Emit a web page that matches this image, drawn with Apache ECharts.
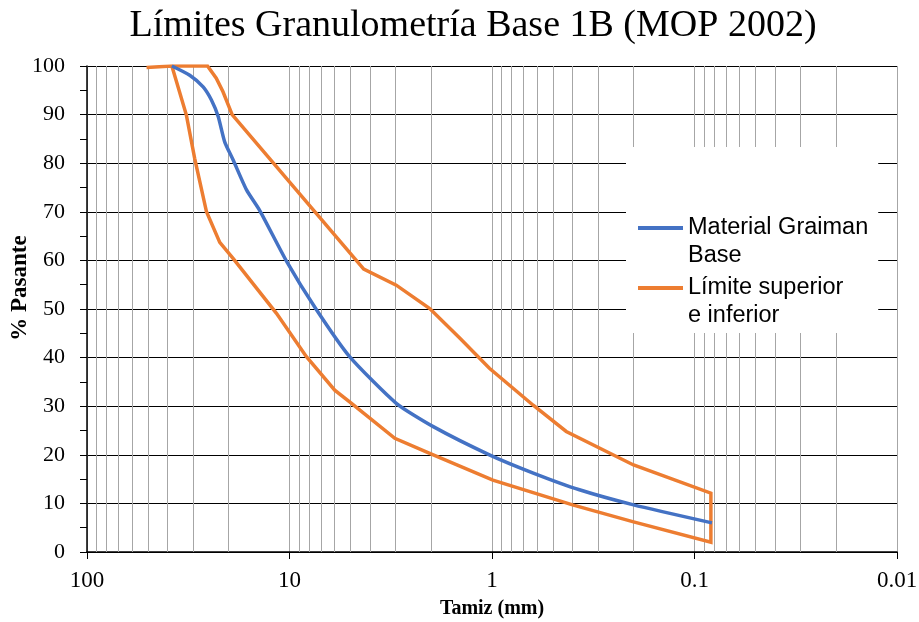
<!DOCTYPE html>
<html>
<head>
<meta charset="utf-8">
<script src="https://cdn.jsdelivr.net/npm/echarts@6/dist/echarts.min.js"></script>
<style>html,body{margin:0;padding:0;background:#fff}#c{width:919px;height:622px}</style>
</head>
<body>
<div id="c"></div>
<script>
// ---- data ----
const titleText = 'Límites Granulometría Base 1B (MOP 2002)';
const xName = 'Tamiz (mm)';
const yName = '% Pasante';
const seriesNames = ['Material Graiman Base', 'Límite superior e inferior'];

// Material Graiman Base (sieve mm, % passing)
const blueSize = [38.1, 31.1, 26.7, 24.3, 22.5, 20.9, 19.0, 16.3, 14.0, 10.3, 7.4, 5.05, 2.97, 1.95, 1.03, 0.63, 0.37, 0.2, 0.082];
const bluePct  = [100, 98.1, 95.7, 93, 89.6, 84.4, 80.7, 74.5, 70.2, 59.7, 50, 40.2, 30.6, 25.8, 20, 16.3, 12.8, 9.7, 6.0];

// upper limit (coarse -> fine)
const upperSize = [50.8, 38.1, 25.4, 23.0, 21.3, 19.2, 4.3, 2.97, 2.03, 1.44, 1.03, 0.626, 0.43, 0.2, 0.083];
const upperPct  = [99.7, 100, 100, 97.5, 94.7, 90, 58.2, 54.9, 50.1, 44, 37.8, 30.2, 24.8, 17.9, 12.1];
// lower limit (fine -> coarse)
const lowerSize = [0.083, 0.2, 0.4, 0.99, 2.03, 3.02, 4.94, 5.98, 8.25, 11.6, 19.0, 22.1, 25.7, 29.4, 32.3, 38.1];
const lowerPct  = [2, 6.2, 9.7, 14.8, 20.3, 23.4, 30.6, 33.3, 40.2, 49.1, 60.4, 63.7, 70, 81, 89.9, 100];

// axis settings
const xMin = 0.01, xMax = 100;
const yMin = 0, yMax = 100, yStep = 10;
const decades = [0.01, 0.1, 1, 10];
const minorMultipliers = [2, 3, 4, 5, 6, 7, 8, 9];

// ---- build ----
const blueData = blueSize.map((s, i) => [s, bluePct[i]]);
const limitData = upperSize.map((s, i) => [s, upperPct[i]])
  .concat(lowerSize.map((s, i) => [s, lowerPct[i]]));
const minorLines = [];
decades.forEach(d => minorMultipliers.forEach(m => minorLines.push({ xAxis: +(d * m).toPrecision(3) })));

const legendLabels = {
  'Material Graiman Base': 'Material Graiman\nBase',
  'Límite superior e inferior': 'Límite superior\ne inferior'
};

const serif = 'Liberation Serif';
const chart = echarts.init(document.getElementById('c'), null, { renderer: 'canvas' });
chart.setOption({
  animation: false,
  backgroundColor: '#fff',
  title: {
    text: titleText,
    left: 473, top: 7, padding: 0,
    textAlign: 'center',
    textStyle: { fontFamily: serif, fontSize: 38, fontWeight: 'normal', color: '#000' }
  },
  grid: { left: 87, right: 22, top: 66, bottom: 70, containLabel: false, outerBoundsMode: 'none' },
  legend: {
    orient: 'vertical',
    left: 626, top: 147,
    padding: [67, 10, 3, 12],
    backgroundColor: '#fff',
    itemGap: 4,
    itemWidth: 45,
    itemHeight: 56,
    icon: 'path://M0,12L45,12L45,16L0,16Z M0,0L0,0 M0,56L0,56',
    itemStyle: { borderWidth: 0 },
    data: seriesNames,
    formatter: n => legendLabels[n],
    textStyle: { fontFamily: 'Liberation Sans', fontSize: 23.5, lineHeight: 28, color: '#000' }
  },
  xAxis: {
    type: 'log', logBase: 10, min: xMin, max: xMax, inverse: true,
    name: xName, nameLocation: 'middle', nameGap: 47,
    nameTextStyle: { fontFamily: serif, fontSize: 20, fontWeight: 'bold', color: '#000' },
    axisLine: { lineStyle: { color: '#000', width: 1.5 } },
    axisTick: { show: true, length: 7, lineStyle: { color: '#000', width: 1 } },
    axisLabel: { fontFamily: serif, fontSize: 23, color: '#000', margin: 17 },
    splitLine: { show: true, lineStyle: { color: '#a6a6a6', width: 1 } }
  },
  yAxis: {
    type: 'value', min: yMin, max: yMax, interval: yStep,
    name: yName, nameLocation: 'middle', nameGap: 55, nameRotate: 90, nameMoveOverlap: false,
    nameTextStyle: { fontFamily: serif, fontSize: 23, fontWeight: 'bold', color: '#000', padding: [0, 0, 0, 42] },
    axisLine: { show: true, lineStyle: { color: '#000', width: 1.5 } },
    axisTick: { show: true, length: 7, lineStyle: { color: '#000', width: 1 } },
    minorTick: { show: true, splitNumber: 2, length: 7, lineStyle: { color: '#000', width: 1 } },
    axisLabel: { fontFamily: serif, fontSize: 22, color: '#000', margin: 22 },
    splitLine: { show: true, lineStyle: { color: '#000', width: 1 } }
  },
  series: [
    {
      name: seriesNames[0], type: 'line', data: blueData,
      showSymbol: false, symbol: 'none', smooth: 0.2,
      lineStyle: { color: '#4472C4', width: 3.5 },
      itemStyle: { color: '#4472C4' },
      z: 3
    },
    {
      name: seriesNames[1], type: 'line', data: limitData,
      showSymbol: false, symbol: 'none',
      lineStyle: { color: '#ED7D31', width: 3.5, join: 'miter' },
      itemStyle: { color: '#ED7D31' },
      z: 2,
      markLine: {
        silent: true, symbol: 'none', z: 1,
        label: { show: false },
        lineStyle: { color: '#a6a6a6', type: 'solid', width: 1 },
        data: minorLines
      }
    }
  ]
});
</script>
</body>
</html>
